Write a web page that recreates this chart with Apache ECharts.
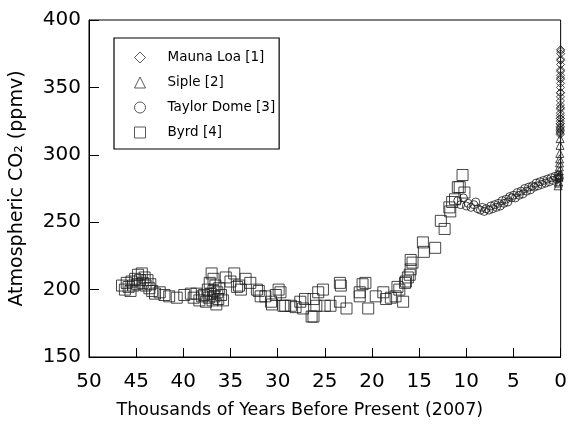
<!DOCTYPE html>
<html>
<head>
<meta charset="utf-8">
<script src="https://cdn.jsdelivr.net/npm/echarts@6/dist/echarts.min.js"></script>
<style>html,body{margin:0;padding:0;background:#fff}#c{width:570px;height:424px}</style>
</head>
<body>
<div id="c"></div>
<script>
// x: thousands of years before present (2007), y: CO2 ppmv
const xTicks = [50, 45, 40, 35, 30, 25, 20, 15, 10, 5, 0];
const yTicks = [150, 200, 250, 300, 350, 400];
const seriesNames = ["Mauna Loa [1]", "Siple [2]", "Taylor Dome [3]", "Byrd [4]"];

const maunaLoa = [
  [0.049,315],[0.048,316],[0.047,317],[0.045,318],[0.043,319],[0.041,320],[0.040,323],[0.039,321],
  [0.037,323],[0.035,325],[0.033,327],[0.031,329],[0.030,327],[0.029,331],[0.027,334],[0.025,337],
  [0.024,335],[0.023,340],[0.021,343],[0.020,346],[0.019,346],[0.017,350],[0.015,353],[0.014,357],
  [0.013,356],[0.011,359],[0.010,363],[0.009,362],[0.007,367],[0.006,370],[0.005,371],[0.003,375],
  [0.002,377],[0.001,378]
];
const siple = [
  [0.263,277],[0.243,279],[0.216,280],[0.191,283],[0.173,284],[0.153,285],[0.138,288],[0.128,291],
  [0.116,294],[0.107,297],[0.092,301],[0.069,307],[0.054,312]
];
const taylorDome = [
  [10.9,266],[10.6,263],[10.3,268],[10.0,262],[9.8,264],[9.5,261],[9.2,263],[9.0,265],[8.8,260],
  [8.5,259],[8.3,261],[8.1,258],[7.9,260],[7.6,259],[7.4,262],[7.2,260],[7.0,263],[6.8,261],
  [6.6,264],[6.4,262],[6.2,266],[6.0,264],[5.8,267],[5.6,265],[5.4,269],[5.2,268],[5.0,270],
  [4.8,268],[4.6,272],[4.4,270],[4.2,273],[4.0,271],[3.8,275],[3.6,273],[3.4,276],[3.2,274],
  [3.0,277],[2.8,276],[2.6,279],[2.4,277],[2.2,280],[2.0,278],[1.8,281],[1.6,279],[1.4,282],
  [1.2,280],[1.0,283],[0.8,281],[0.6,284],[0.4,282],[0.25,285],[0.15,283]
];
const byrd = [
  [46.5,203],[46.2,200],[46.0,205],[45.8,202],[45.6,199],[45.5,206],[45.3,203],[45.1,208],
  [44.9,204],[44.8,211],[44.6,207],[44.4,212],[44.3,205],[44.1,209],[44.0,203],[43.8,207],
  [43.6,201],[43.5,204],[43.3,199],[43.0,197],[42.5,198],[42.0,196],[41.5,195],[40.7,194],
  [39.9,196],[39.2,197],[38.9,194],[38.6,197],[38.3,192],[38.0,195],[37.8,196],[37.6,191],
  [37.4,200],[37.3,194],[37.2,205],[37.1,197],[37.0,212],[36.9,192],[36.8,208],[36.8,199],
  [36.7,195],[36.6,203],[36.5,189],[36.4,198],[36.3,193],[36.2,201],[36.0,196],[35.8,192],
  [35.5,209],[35.0,206],[34.6,212],[34.3,202],[34.1,203],[33.9,200],[33.4,208],[32.9,205],
  [32.2,200],[32.0,199],[31.8,195],[31.3,195],[30.7,191],[30.6,189],[30.2,196],[29.9,200],
  [29.7,198],[29.4,188],[29.2,188],[28.6,188],[28.1,187],[27.6,191],[27.3,186],[27.1,193],
  [26.4,180],[26.2,193],[26.2,180],[25.9,188],[25.7,198],[25.2,200],[25.0,188],[24.4,188],
  [23.4,191],[23.4,205],[23.3,203],[22.7,186],[21.3,198],[21.3,195],[21.0,204],[20.7,205],
  [20.4,186],[19.6,195],[18.8,198],[18.5,193],[18.0,194],[17.5,195],[17.3,202],[17.1,200],
  [16.7,191],[16.5,205],[16.4,206],[16.2,209],[16.0,211],[15.9,215],[15.9,222],[15.7,220],
  [14.6,235],[14.5,228],[13.3,231],[12.7,251],[12.3,245],[11.8,261],[11.7,258],[11.5,265],
  [11.2,267],[10.9,276],[10.7,276],[10.4,285],[10.2,272]
];

const font = "DejaVu Sans";
const stroke = "#1a1a1a";
function mk(name, data, symbol, size) {
  return {
    name: name, type: "scatter", data: data, symbol: symbol, symbolSize: size, clip: false,
    itemStyle: { color: "rgba(255,255,255,0)", borderColor: stroke, borderWidth: 1 },
    emphasis: { disabled: true }, animation: false
  };
}
const chart = echarts.init(document.getElementById("c"), null, { renderer: "canvas" });
chart.setOption({
  animation: false,
  backgroundColor: "#fff",
  grid: { left: 89, right: 6, top: 20, bottom: 66, show: true, borderColor: "#000", borderWidth: 1, containLabel: false },
  legend: {
    orient: "vertical", left: 114, top: 38,
    data: [
      { name: seriesNames[0], icon: "diamond" },
      { name: seriesNames[1], icon: "triangle" },
      { name: seriesNames[2], icon: "circle" },
      { name: seriesNames[3], icon: "rect" }
    ],
    itemWidth: 11, itemHeight: 11, itemGap: 8,
    padding: [11, 4, 8, 20],
    borderColor: "#000", borderWidth: 1.2,
    itemStyle: { color: "rgba(255,255,255,0)", borderColor: "#333", borderWidth: 1 },
    textStyle: { fontFamily: font, fontSize: 13.5, color: "#000", padding: [0, 0, 0, 17], lineHeight: 17 },
    selectedMode: false
  },
  xAxis: {
    type: "value", inverse: true, min: 0, max: 50, interval: 5,
    name: "Thousands of Years Before Present (2007)", nameLocation: "middle", nameGap: 44,
    nameTextStyle: { fontFamily: font, fontSize: 17.5, color: "#000", padding: [0, 50, 0, 0] },
    axisLine: { show: true, onZero: false, lineStyle: { color: "#000", width: 1 } },
    axisTick: { show: true, inside: true, length: 9, lineStyle: { color: "#000", width: 1 } },
    axisLabel: { fontFamily: font, fontSize: 20, color: "#000", margin: 15,
      formatter: v => xTicks.includes(v) ? String(v) : "" },
    splitLine: { show: false }
  },
  yAxis: {
    type: "value", min: 150, max: 400, interval: 50, position: "left",
    name: "Atmospheric CO\u2082 (ppmv)", nameLocation: "middle", nameGap: 62,
    nameTextStyle: { fontFamily: font, fontSize: 19, color: "#000" },
    axisLine: { show: true, onZero: false, lineStyle: { color: "#000", width: 1 } },
    axisTick: { show: true, inside: true, length: 10, lineStyle: { color: "#000", width: 1 } },
    axisLabel: { fontFamily: font, fontSize: 20, color: "#000", margin: 8,
      formatter: v => yTicks.includes(v) ? String(v) : "" },
    splitLine: { show: false }
  },
  series: [
    mk(seriesNames[3], byrd, "rect", 11),
    mk(seriesNames[2], taylorDome, "circle", 8),
    mk(seriesNames[1], siple, "triangle", 8),
    mk(seriesNames[0], maunaLoa, "diamond", 8)
  ]
});
</script>
</body>
</html>
